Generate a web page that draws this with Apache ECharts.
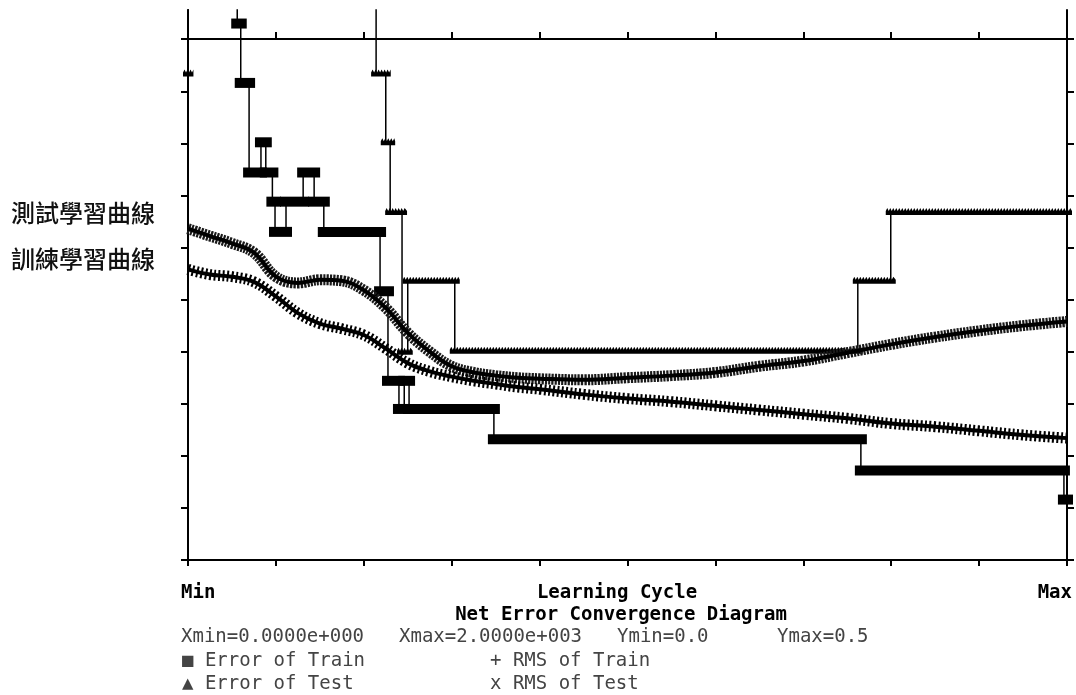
<!DOCTYPE html>
<html>
<head>
<meta charset="utf-8">
<title>Net Error Convergence Diagram</title>
<script src="https://cdn.jsdelivr.net/npm/echarts@6/dist/echarts.min.js"></script>
<style>
html, body { margin: 0; padding: 0; background: #fff; }
#chart { width: 1076px; height: 695px; }
</style>
</head>
<body>
<div id="chart"></div>
<script>
// learning cycle (0..2000) on x, net error on y
const rmsX = [0, 50, 100, 150, 200, 250, 300, 350, 400, 450, 500, 550, 600, 650, 700, 750, 800,
  900, 1000, 1100, 1200, 1300, 1400, 1500, 1600, 1700, 1800, 1900, 2000];
const rmsTrain = [0.279, 0.274, 0.272, 0.267, 0.253, 0.237, 0.227, 0.222, 0.216, 0.203, 0.189, 0.181, 0.176, 0.172, 0.169, 0.166, 0.164,
  0.159, 0.155, 0.152, 0.148, 0.144, 0.140, 0.136, 0.131, 0.128, 0.124, 0.120, 0.117];
const rmsTest = [0.318, 0.311, 0.304, 0.295, 0.272, 0.266, 0.269, 0.268, 0.259, 0.242, 0.218, 0.200, 0.186, 0.180, 0.177, 0.175, 0.174,
  0.173, 0.175, 0.177, 0.180, 0.186, 0.191, 0.199, 0.207, 0.214, 0.220, 0.225, 0.229];

// step curves: cycle where a level starts, and that level
const trainErrX = [0, 112, 120, 139, 166, 177, 192, 198, 223, 262, 287, 309, 437, 455, 480, 492, 503, 696, 1531, 1993, 2000];
const trainErrY = [0.6, 0.515, 0.458, 0.372, 0.401, 0.372, 0.344, 0.315, 0.344, 0.372, 0.344, 0.315, 0.258, 0.172, 0.145, 0.172, 0.145, 0.116, 0.086, 0.058, 0.058];
const testErrX = [0, 1, 428, 450, 460, 487, 500, 607, 1524, 1599, 2000];
const testErrY = [0.467, 0.6, 0.467, 0.401, 0.334, 0.2, 0.268, 0.201, 0.268, 0.334, 0.334];

const yTicks = [0, 0.05, 0.1, 0.15, 0.2, 0.25, 0.3, 0.35, 0.4, 0.45, 0.5];
const yMax = 0.528;

function pairs(xs, ys) {
  return xs.map((x, i) => [x, ys[i]]);
}
function plateaus(xs, ys) {
  let out = [];
  for (let i = 0; i < xs.length - 1; i++) {
    if (ys[i] <= yMax) out.push([xs[i], xs[i + 1], ys[i]]);
  }
  return out;
}

// overlapping square markers form a solid band
function squareBand(params, api) {
  const a = api.coord([api.value(0), api.value(2)]);
  const b = api.coord([api.value(1), api.value(2)]);
  return {
    type: 'rect',
    shape: { x: a[0] - 6, y: a[1] - 5, width: b[0] - a[0] + 12, height: 10 },
    style: { fill: '#000' }
  };
}
// overlapping triangles -> band with a saw-tooth top
function triangleBand(params, api) {
  const a = api.coord([api.value(0), api.value(2)]);
  const b = api.coord([api.value(1), api.value(2)]);
  const x0 = a[0] - 5, x1 = b[0] + 5, y = a[1];
  let pts = [[x0, y + 3]];
  for (let x = x0; x < x1 - 1; x += 3) {
    pts.push([x, y - 1], [x + 1.5, y - 4]);
  }
  pts.push([x1, y - 1], [x1, y + 3]);
  return { type: 'polygon', shape: { points: pts }, style: { fill: '#000' } };
}

const mono = 'DejaVu Sans Mono';
function txt(text, x, y, opts) {
  opts = opts || {};
  return {
    type: 'text', x: x, y: y, silent: true,
    style: {
      text: text,
      font: (opts.weight ? opts.weight + ' ' : '') + (opts.size || 19) + 'px ' + (opts.family || mono),
      fill: opts.color || '#000',
      textAlign: opts.align || 'left',
      textVerticalAlign: 'middle'
    }
  };
}

const chart = echarts.init(document.getElementById('chart'));
const axisLine = { show: true, onZero: false, lineStyle: { color: '#000', width: 2 } };
const tickStyle = { color: '#000', width: 2 };

chart.setOption({
  animation: false,
  backgroundColor: '#fff',
  grid: { left: 188, right: 9, top: 10, bottom: 135 },
  xAxis: [{
    type: 'value', min: 0, max: 2000, interval: 200, position: 'bottom',
    axisLine: axisLine,
    axisTick: { show: true, length: 6, lineStyle: tickStyle },
    axisLabel: { show: false }, splitLine: { show: false }
  }, {
    // the Ymax line across the top, ticks pointing up
    type: 'value', min: 0, max: 2000, interval: 200, position: 'top', offset: -29,
    axisLine: axisLine,
    axisTick: { show: true, length: 7, lineStyle: tickStyle },
    axisLabel: { show: false }, splitLine: { show: false }
  }],
  yAxis: [{
    type: 'value', min: 0, max: yMax, position: 'left',
    axisLine: axisLine,
    axisTick: { show: true, length: 7, customValues: yTicks, lineStyle: tickStyle },
    axisLabel: { show: false }, splitLine: { show: false }
  }, {
    type: 'value', min: 0, max: yMax, position: 'right',
    axisLine: axisLine,
    axisTick: { show: true, length: 7, customValues: yTicks, lineStyle: tickStyle },
    axisLabel: { show: false }, splitLine: { show: false }
  }],
  series: [
    {
      name: 'Error of Train line', type: 'line', step: 'end', showSymbol: false,
      data: pairs(trainErrX, trainErrY),
      lineStyle: { color: '#000', width: 1.5 }
    },
    {
      name: 'Error of Test line', type: 'line', step: 'end', showSymbol: false,
      data: pairs(testErrX, testErrY),
      lineStyle: { color: '#000', width: 1.5 }
    },
    {
      name: 'Error of Train', type: 'custom', renderItem: squareBand, clip: false,
      encode: { x: [0, 1], y: 2 }, data: plateaus(trainErrX, trainErrY)
    },
    {
      name: 'Error of Test', type: 'custom', renderItem: triangleBand, clip: false,
      encode: { x: [0, 1], y: 2 }, data: plateaus(testErrX, testErrY)
    },
    {
      name: 'RMS of Test', type: 'line', smooth: 0.4, showSymbol: false,
      data: pairs(rmsX, rmsTest),
      lineStyle: { color: '#1a1a1a', width: 11, type: [2.2, 1.1], cap: 'butt' }
    },
    {
      name: 'RMS of Test core', type: 'line', smooth: 0.4, showSymbol: false,
      data: pairs(rmsX, rmsTest),
      lineStyle: { color: '#000', width: 4 }
    },
    {
      name: 'RMS of Train', type: 'line', smooth: 0.4, showSymbol: false,
      data: pairs(rmsX, rmsTrain),
      lineStyle: { color: '#000', width: 11, type: [2, 2.4], cap: 'butt' }
    },
    {
      name: 'RMS of Train core', type: 'line', smooth: 0.4, showSymbol: false,
      data: pairs(rmsX, rmsTrain),
      lineStyle: { color: '#000', width: 4 }
    }
  ],
  graphic: [
    txt('測試學習曲線', 11, 213, { size: 24, weight: 500, family: 'Noto Sans CJK TC', color: '#111' }),
    txt('訓練學習曲線', 11, 259, { size: 24, weight: 500, family: 'Noto Sans CJK TC', color: '#111' }),
    txt('Min', 181, 593, { weight: 'bold' }),
    txt('Learning Cycle', 617, 593, { weight: 'bold', align: 'center' }),
    txt('Max', 1072, 593, { weight: 'bold', align: 'right' }),
    txt('Net Error Convergence Diagram', 621, 615, { weight: 'bold', align: 'center' }),
    txt('Xmin=0.0000e+000', 181, 637, { color: '#444' }),
    txt('Xmax=2.0000e+003', 399, 637, { color: '#444' }),
    txt('Ymin=0.0', 617, 637, { color: '#444' }),
    txt('Ymax=0.5', 777, 637, { color: '#444' }),
    txt('\u25a0 Error of Train', 182, 661, { color: '#444' }),
    txt('+ RMS of Train', 490, 661, { color: '#444' }),
    txt('\u25b2 Error of Test', 182, 684, { color: '#444' }),
    txt('x RMS of Test', 490, 684, { color: '#444' })
  ]
});
</script>
</body>
</html>
